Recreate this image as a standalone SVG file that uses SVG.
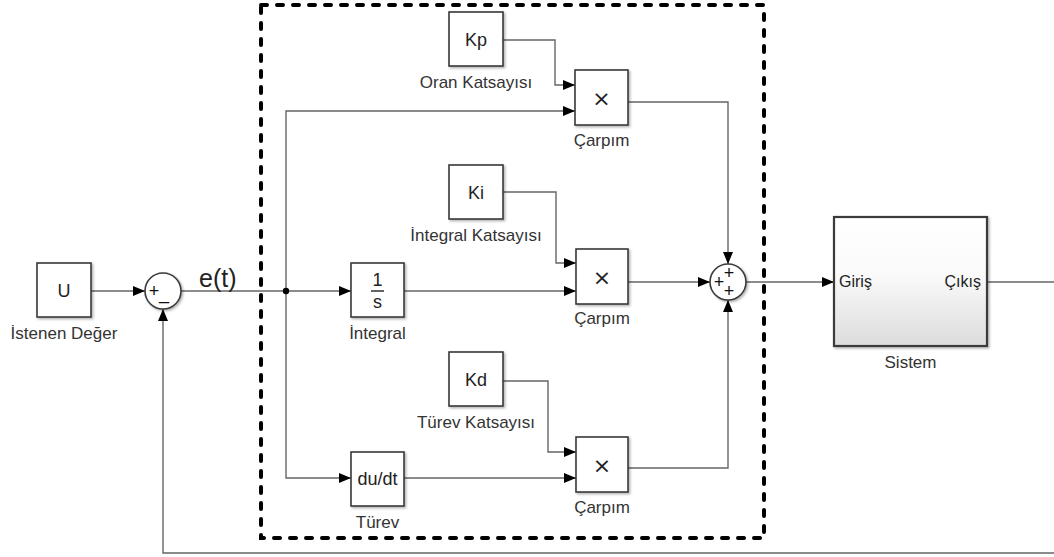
<svg xmlns="http://www.w3.org/2000/svg" width="1054" height="557" viewBox="0 0 1054 557">
<defs>
  <marker id="arr" markerUnits="userSpaceOnUse" markerWidth="12" markerHeight="12" viewBox="0 0 12 12" refX="12" refY="6" orient="auto">
    <path d="M0,1 L12,6 L0,11 z" fill="#000"/>
  </marker>
  <linearGradient id="sysg" x1="0" y1="0" x2="0" y2="1">
    <stop offset="0" stop-color="#ffffff"/>
    <stop offset="0.45" stop-color="#fafafa"/>
    <stop offset="1" stop-color="#dcdcdc"/>
  </linearGradient>
  <filter id="sh" x="-20%" y="-20%" width="140%" height="140%">
    <feDropShadow dx="1.5" dy="1.5" stdDeviation="1" flood-color="#000" flood-opacity="0.3"/>
  </filter>
</defs>
<style>
  .blk { fill: #fff; stroke: #3a3a3a; stroke-width: 1.6; filter: url(#sh); }
  .sys { fill: url(#sysg); stroke: #3a3a3a; stroke-width: 2.2; filter: url(#sh); }
  .sum { fill: #fff; stroke: #3a3a3a; stroke-width: 1.6; filter: url(#sh); }
  .w { fill: none; stroke: #666; stroke-width: 1.4; }
  .wa { fill: none; stroke: #666; stroke-width: 1.4; marker-end: url(#arr); }
  .lbl { font-family: "Liberation Sans", Arial, sans-serif; font-size: 17px; fill: #333; text-anchor: middle; }
  .bt { font-family: "Liberation Sans", Arial, sans-serif; font-size: 18px; fill: #222; text-anchor: middle; }
  .x { font-family: "DejaVu Sans", "Liberation Sans", sans-serif; font-size: 22px; fill: #222; text-anchor: middle; }
  .sg { font-family: "Liberation Sans", Arial, sans-serif; font-size: 18px; fill: #111; text-anchor: middle; }
  .dash { fill: none; stroke: #000; stroke-width: 4; stroke-dasharray: 6 10; stroke-linecap: round; }
</style>
<rect width="1054" height="557" fill="#fff"/>

<rect class="dash" x="261" y="5" width="503" height="533"/>

<g id="connectors">
  <path class="wa" d="M91,291 L145,291"/>
  <path class="w" d="M181,291 L286,291"/>
  <path class="wa" d="M286,291 L351,291"/>
  <path class="wa" d="M286,291 L286,111 L575,111"/>
  <path class="wa" d="M286,291 L286,478 L351,478"/>
  <circle cx="286" cy="291" r="3.2" fill="#000"/>
  <path class="wa" d="M503,40 L555,40 L555,85 L575,85"/>
  <path class="wa" d="M503,192 L556,192 L556,263 L576,263"/>
  <path class="wa" d="M404,291 L576,291"/>
  <path class="wa" d="M503,381 L548,381 L548,452 L576,452"/>
  <path class="wa" d="M404,478 L576,478"/>
  <path class="wa" d="M628,102 L728,102 L728,264"/>
  <path class="wa" d="M628,282 L710,282"/>
  <path class="wa" d="M628,468 L728,468 L728,300"/>
  <path class="wa" d="M746,282 L834,282"/>
  <path class="w" d="M987,282 L1054,282"/>
  <path class="wa" d="M1054,553 L163,553 L163,309"/>
</g>

<g id="U">
  <rect class="blk" x="37" y="263" width="54" height="54"/>
  <text class="bt" x="64" y="297">U</text>
  <text class="lbl" x="64" y="339">İstenen Değer</text>
</g>

<g id="sum1">
  <circle class="sum" cx="163" cy="291" r="18"/>
  <text class="sg" x="154" y="297">+</text>
  <text class="sg" x="164" y="299">_</text>
</g>

<text id="et" x="199" y="287" font-family="'Liberation Sans', Arial, sans-serif" font-size="25" fill="#222">e(t)</text>

<g id="Kp">
  <rect class="blk" x="449" y="12" width="54" height="54"/>
  <text class="bt" x="476" y="46">Kp</text>
  <text class="lbl" x="476" y="88">Oran Katsayısı</text>
</g>

<g id="Ki">
  <rect class="blk" x="449" y="165" width="54" height="54"/>
  <text class="bt" x="476" y="199">Ki</text>
  <text class="lbl" x="476" y="241">İntegral Katsayısı</text>
</g>

<g id="Kd">
  <rect class="blk" x="449" y="352" width="54" height="54"/>
  <text class="bt" x="476" y="386">Kd</text>
  <text class="lbl" x="476" y="428">Türev Katsayısı</text>
</g>

<g id="integral">
  <rect class="blk" x="351" y="263" width="53" height="54"/>
  <text class="bt" x="377.5" y="286">1</text>
  <line x1="371" y1="291" x2="384" y2="291" stroke="#222" stroke-width="1.4"/>
  <text class="bt" x="377.5" y="308">s</text>
  <text class="lbl" x="377.5" y="339">İntegral</text>
</g>

<g id="turev">
  <rect class="blk" x="351" y="452" width="53" height="54"/>
  <text class="bt" x="377.5" y="485">du/dt</text>
  <text class="lbl" x="377.5" y="528">Türev</text>
</g>

<g id="carpim1">
  <rect class="blk" x="575" y="70" width="53" height="55"/>
  <text class="x" x="601.5" y="106">×</text>
  <text class="lbl" x="601.5" y="146">Çarpım</text>
</g>

<g id="carpim2">
  <rect class="blk" x="576" y="249" width="52" height="55"/>
  <text class="x" x="602" y="285">×</text>
  <text class="lbl" x="602" y="324">Çarpım</text>
</g>

<g id="carpim3">
  <rect class="blk" x="576" y="437" width="52" height="55"/>
  <text class="x" x="602" y="473">×</text>
  <text class="lbl" x="602" y="513">Çarpım</text>
</g>

<g id="sum2">
  <circle class="sum" cx="728" cy="282" r="18"/>
  <text class="sg" x="729" y="279">+</text>
  <text class="sg" x="719" y="288">+</text>
  <text class="sg" x="729" y="297">+</text>
</g>

<g id="sistem">
  <rect class="sys" x="834" y="217" width="153" height="129"/>
  <text x="839" y="287" font-family="'Liberation Sans', Arial, sans-serif" font-size="16" fill="#222">Giriş</text>
  <text x="981" y="287" font-family="'Liberation Sans', Arial, sans-serif" font-size="16" fill="#222" text-anchor="end">Çıkış</text>
  <text class="lbl" x="910.5" y="368">Sistem</text>
</g>
</svg>
